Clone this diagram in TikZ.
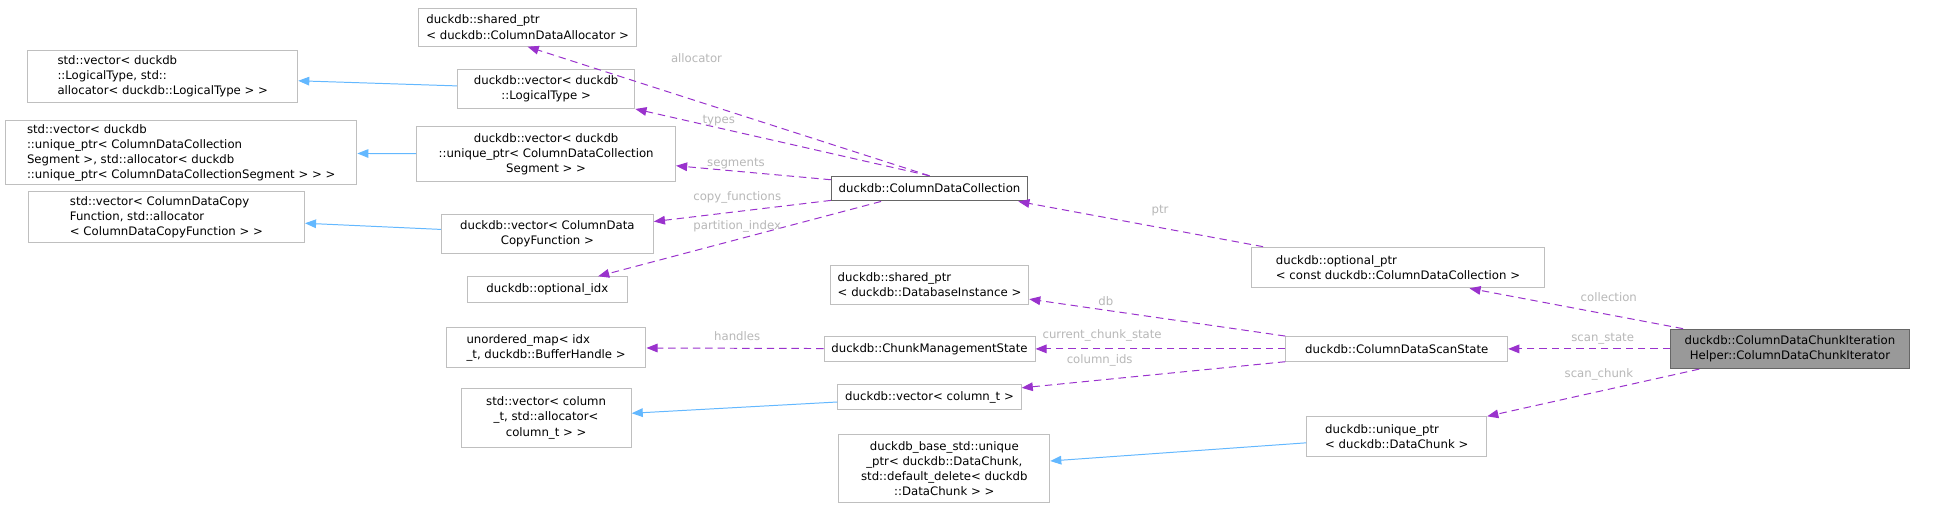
\documentclass[tikz,border=0pt]{standalone}
\usepackage{fontspec}
\setmainfont{DejaVu Sans}
\usetikzlibrary{arrows.meta}
\definecolor{edgep}{HTML}{9A32CD}
\definecolor{edgeb}{HTML}{63B8FF}
\definecolor{lblc}{HTML}{B8B8B8}
\definecolor{boxc}{HTML}{BFBFBF}
\begin{document}
\begin{tikzpicture}[x=1pt,y=-1pt,
  every node/.style={font=\fontsize{9.5}{12.2}\selectfont, inner sep=0pt},
  box/.style={draw=boxc, line width=0.8pt, fill=white, align=#1, inner xsep=6pt},
  box/.default=center,
  use/.style={draw=edgep, dashed, dash pattern=on 6pt off 4pt, line width=0.8pt, -{Triangle[length=9pt,width=7pt]}},
  inh/.style={draw=edgeb, line width=0.8pt, -{Triangle[length=9pt,width=7pt]}},
  lbl/.style={text=lblc}]
\useasboundingbox (0,0) rectangle (1568,413);
\fill[white] (0,0) rectangle (1568,413);
% nodes
\node[box=left, minimum width=171pt, minimum height=31pt] (n1) at (428,22) {duckdb::shared\_ptr\\< duckdb::ColumnDataAllocator >};
\node[box=left, minimum width=219pt, minimum height=42pt] (n2) at (132,62) {std::vector< duckdb\\::LogicalType, std::\\allocator< duckdb::LogicalType > >};
\node[box, minimum width=144pt, minimum height=32pt] (n3) at (443,72) {duckdb::vector< duckdb\\::LogicalType >};
\node[box=left, minimum width=285pt, minimum height=52pt] (n4) at (147,124) {std::vector< duckdb\\::unique\_ptr< ColumnDataCollection\\Segment >, std::allocator< duckdb\\::unique\_ptr< ColumnDataCollectionSegment > > >};
\node[box, minimum width=210pt, minimum height=44pt] (n5) at (443,125) {duckdb::vector< duckdb\\::unique\_ptr< ColumnDataCollection\\Segment > >};
\node[box, draw=black!60, minimum width=152pt, minimum height=20pt] (n6) at (754,153) {duckdb::ColumnDataCollection};
\node[box=left, minimum width=224pt, minimum height=41pt] (n7) at (135,176) {std::vector< ColumnDataCopy\\Function, std::allocator\\< ColumnDataCopyFunction > >};
\node[box, minimum width=172pt, minimum height=32pt] (n8) at (444,190) {duckdb::vector< ColumnData\\CopyFunction >};
\node[box, minimum width=130pt, minimum height=21pt] (n9) at (444,235) {duckdb::optional\_idx};
\node[box=left, minimum width=238pt, minimum height=33pt] (n10) at (1134,217) {duckdb::optional\_ptr\\< const duckdb::ColumnDataCollection >};
\node[box=left, minimum width=152pt, minimum height=32pt] (n11) at (754,231) {duckdb::shared\_ptr\\< duckdb::DatabaseInstance >};
\node[box=left, minimum width=162pt, minimum height=32pt] (n12) at (443,282) {unordered\_map< idx\\\_t, duckdb::BufferHandle >};
\node[box, minimum width=167pt, minimum height=20pt] (n13) at (754,283) {duckdb::ChunkManagementState};
\node[box, minimum width=180pt, minimum height=20pt] (n14) at (1133,283) {duckdb::ColumnDataScanState};
\node[box, draw=black!60, fill=black!40, minimum width=194pt, minimum height=32pt, inner xsep=3pt] (n15) at (1452,283) {duckdb::ColumnDataChunkIteration\\Helper::ColumnDataChunkIterator};
\node[box, minimum width=138pt, minimum height=48pt] (n16) at (443,339) {std::vector< column\\\_t, std::allocator<\\column\_t > >};
\node[box, minimum width=142pt, minimum height=21pt] (n17) at (754,322) {duckdb::vector< column\_t >};
\node[box=left, minimum width=146pt, minimum height=32pt] (n18) at (1133,354) {duckdb::unique\_ptr\\< duckdb::DataChunk >};
\node[box, minimum width=171pt, minimum height=55pt] (n19) at (766,380) {duckdb\_base\_std::unique\\\_ptr< duckdb::DataChunk,\\ std::default\_delete< duckdb\\::DataChunk > >};
% inheritance
\draw[inh] (n3) -- (n2);
\draw[inh] (n5) -- (n4);
\draw[inh] (n8) -- (n7);
\draw[inh] (n17) -- (n16);
\draw[inh] (n18) -- (n19);
% usage
\draw[use] (n6.north) -- (n1.south);
\draw[use] (n6.north) -- (n3.south east);
\draw[use] (n6) -- (n5);
\draw[use] (n6) -- (n8);
\draw[use] (n6) -- (n9);
\draw[use] ([xshift=10pt]n10.north west) -- ([xshift=-8pt]n6.south east);
\draw[use] (n15) -- ([xshift=58pt]n10.south);
\draw[use] (n15) -- (n14);
\draw[use] (n15) -- (n18);
\draw[use] (n14.north west) -- (n11);
\draw[use] (n14) -- (n13);
\draw[use] (n14.south west) -- (n17);
\draw[use] (n13) -- (n12);
% labels
\node[lbl] (l1) at (565,47) {allocator};
\node[lbl] (l2) at (583,98) {types};
\node[lbl] (l3) at (597,133) {segments};
\node[lbl] (l4) at (598,160) {copy\_functions};
\node[lbl] (l5) at (598,184) {partition\_index};
\node[lbl] (l6) at (941,171) {ptr};
\node[lbl] (l7) at (1305,241) {collection};
\node[lbl] (l8) at (1300,275) {scan\_state};
\node[lbl] (l9) at (1297,304) {scan\_chunk};
\node[lbl] (l10) at (897,244) {db};
\node[lbl] (l11) at (894,272) {current\_chunk\_state};
\node[lbl] (l12) at (892,292) {column\_ids};
\node[lbl] (l13) at (598,273) {handles};
\end{tikzpicture}
\end{document}
